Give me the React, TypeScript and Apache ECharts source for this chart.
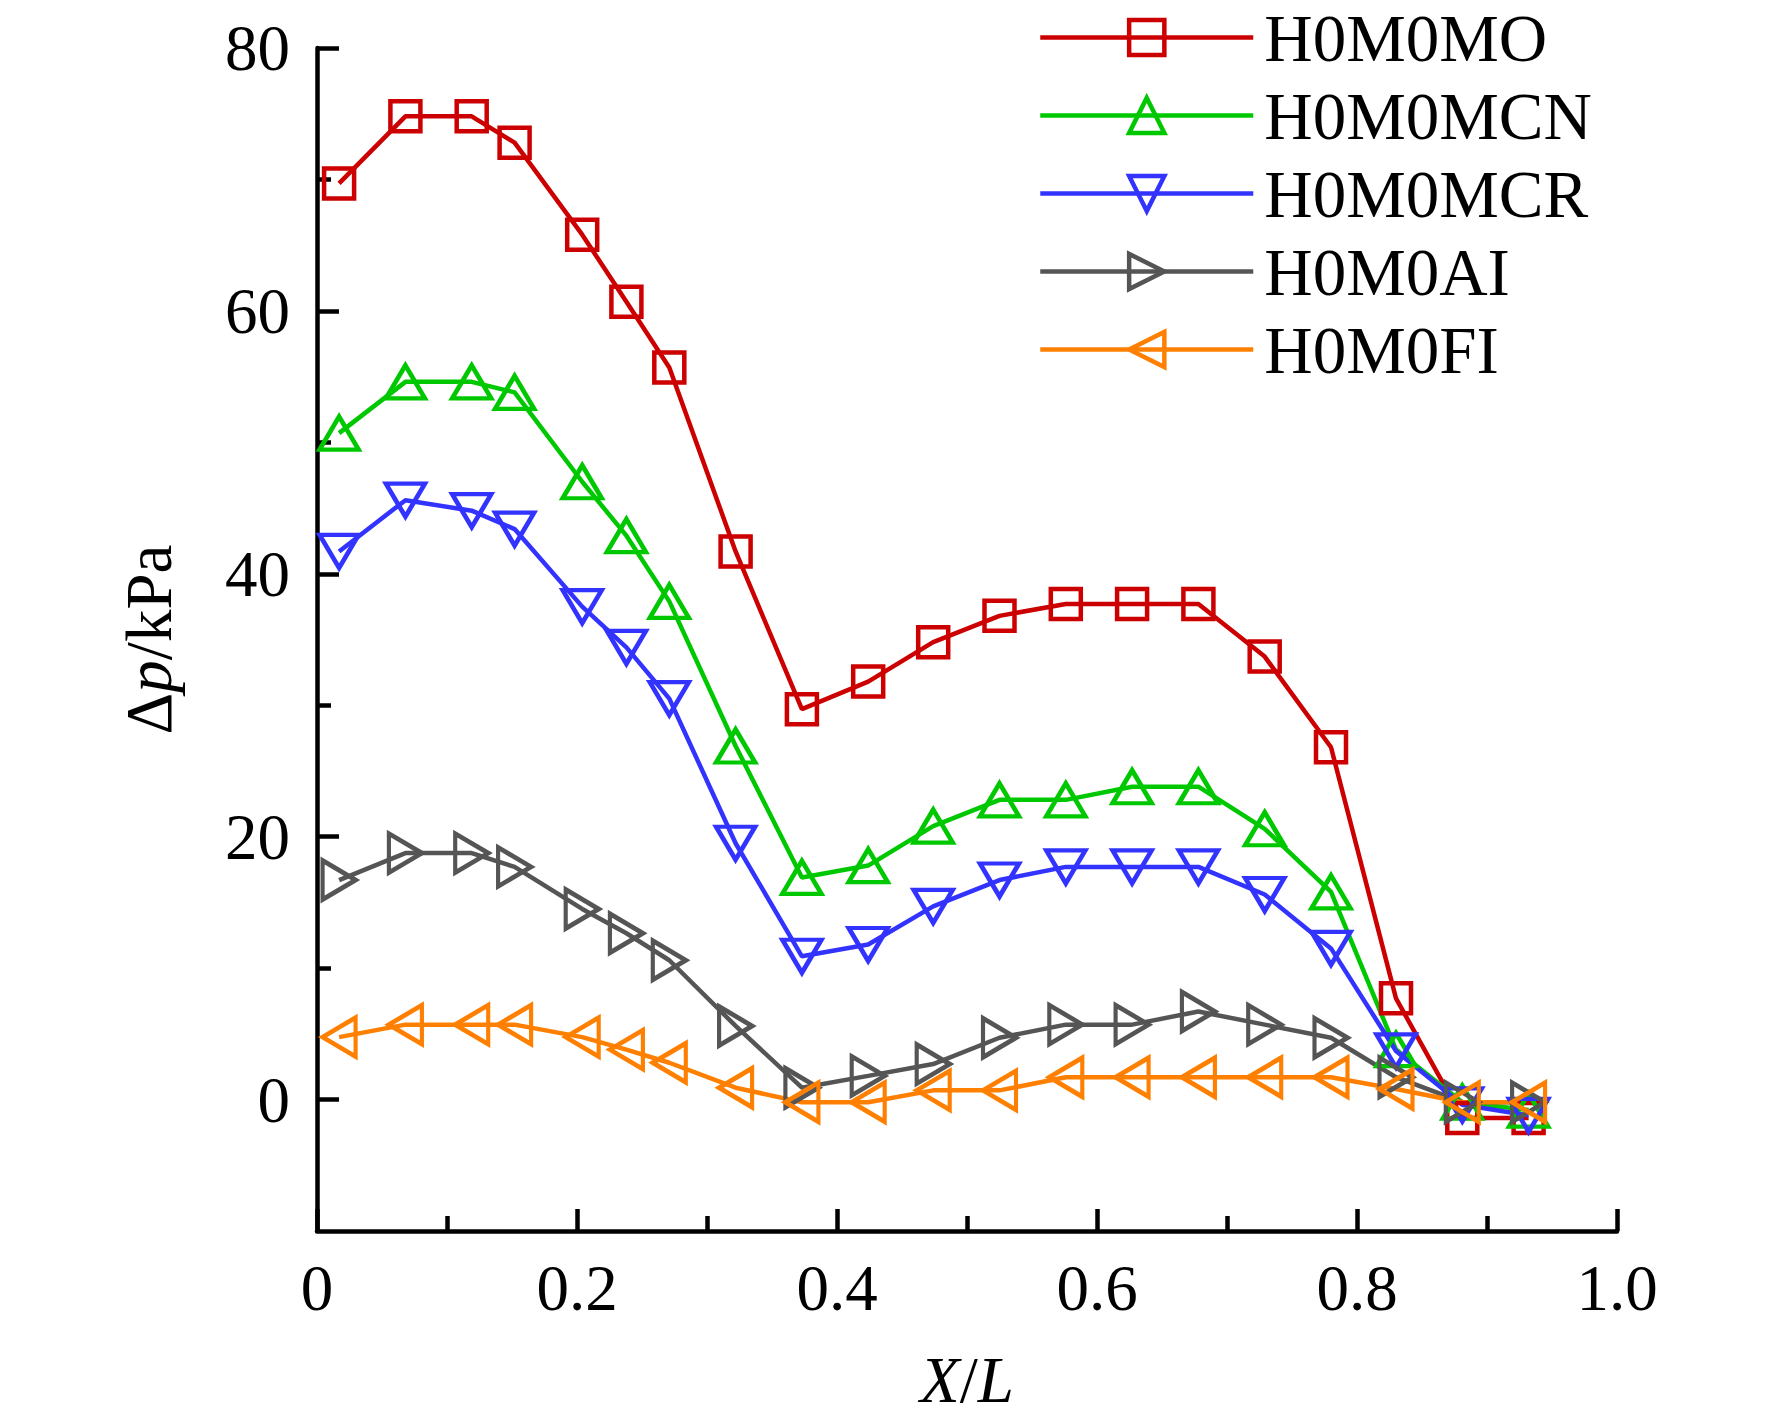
import React, { useEffect, useRef } from "react";
import * as echarts from "echarts";

const xValues = [0.017, 0.068, 0.119, 0.152, 0.204, 0.238, 0.271, 0.322, 0.373, 0.424, 0.474, 0.525, 0.576, 0.627, 0.678, 0.729, 0.78, 0.83, 0.881, 0.932];
const seriesNames = ["H0M0MO", "H0M0MCN", "H0M0MCR", "H0M0AI", "H0M0FI"];
const moValues = [69.7, 74.8, 74.8, 72.8, 65.8, 60.7, 55.7, 41.7, 29.7, 31.8, 34.8, 36.8, 37.7, 37.7, 37.7, 33.7, 26.8, 7.7, -1.4, -1.4];
const mcnValues = [50.7, 54.6, 54.6, 53.8, 47.0, 42.9, 37.9, 26.9, 16.9, 17.8, 20.8, 22.8, 22.8, 23.8, 23.8, 20.6, 15.8, 3.8, -0.2, -0.8];
const mcrValues = [41.7, 45.6, 44.8, 43.4, 37.5, 34.4, 30.5, 19.5, 10.9, 11.8, 14.7, 16.7, 17.7, 17.7, 17.7, 15.6, 11.5, 3.7, -0.4, -1.2];
const aiValues = [16.7, 18.75, 18.75, 17.7, 14.5, 12.65, 10.6, 5.6, 0.9, 1.8, 2.7, 4.7, 5.7, 5.7, 6.7, 5.7, 4.7, 1.7, -0.2, -0.2];
const fiValues = [4.75, 5.7, 5.7, 5.7, 4.75, 3.8, 2.8, 0.9, -0.2, -0.2, 0.7, 0.7, 1.7, 1.7, 1.7, 1.7, 1.7, 0.8, -0.2, -0.2];
const allValues = [moValues, mcnValues, mcrValues, aiValues, fiValues];

const yMajorTicks = [0, 20, 40, 60, 80];
const yMinorTicks = [10, 30, 50, 70];

const colors = ["#CC0000", "#00C800", "#3333FF", "#555555", "#FF8000"];
const symbols = ["rect", "triangle", "triangle", "triangle", "triangle"];
const rotations = [0, 0, 180, -90, 90];
const symbolSizes: any[] = [30, [39, 33], [39, 33], [39, 33], [39, 33]];

const FONT = "'Liberation Serif', 'Times New Roman', serif";
const LW = 4.5;

export default function App() {
  const ref = useRef<HTMLDivElement>(null);
  useEffect(() => {
    if (!ref.current) return;
    const chart = echarts.init(ref.current, null, { renderer: "svg" });
    const series = seriesNames.map((name, i) => ({
      name,
      type: "line",
      data: xValues.map((x, j) => [x, allValues[i][j]]),
      symbol: symbols[i],
      symbolSize: symbolSizes[i],
      symbolRotate: rotations[i],
      showAllSymbol: true,
      clip: false,
      lineStyle: { color: colors[i], width: LW },
      itemStyle: { color: "transparent", borderColor: colors[i], borderWidth: LW },
      emphasis: { disabled: true },
    }));
    chart.setOption({
      animation: false,
      backgroundColor: "#ffffff",
      grid: { left: 317, right: 155, top: 48, bottom: 184 },
      legend: {
        orient: "vertical",
        left: 1038,
        top: 4,
        padding: 0,
        itemWidth: 213,
        itemHeight: 44,
        itemGap: 11,
        selectedMode: false,
        textStyle: { fontFamily: FONT, fontSize: 67, color: "#000", padding: [0, 0, 0, 6] },
        data: seriesNames.map((name, i) => ({
          name,
          itemStyle: { color: "transparent", borderColor: colors[i], borderWidth: LW },
          lineStyle: { color: colors[i], width: LW },
        })),
      },
      xAxis: {
        type: "value",
        min: 0,
        max: 1,
        interval: 0.2,
        name: "{i|X}/{i|L}",
        nameLocation: "middle",
        nameGap: 116,
        nameTextStyle: {
          fontFamily: FONT,
          fontSize: 65,
          color: "#000",
          rich: { i: { fontFamily: FONT, fontSize: 65, fontStyle: "italic", color: "#000" } },
        },
        axisLine: { show: true, onZero: false, lineStyle: { color: "#000", width: LW } },
        axisTick: { show: true, inside: true, length: 22, lineStyle: { color: "#000", width: LW } },
        minorTick: { show: true, splitNumber: 2, length: 15, lineStyle: { color: "#000", width: LW } },
        splitLine: { show: false },
        axisLabel: {
          margin: 24,
          fontFamily: FONT,
          fontSize: 65,
          color: "#000",
          formatter: (v: number) => (v === 0 ? "0" : v.toFixed(1)),
        },
      },
      yAxis: [
        {
          type: "value",
          min: -10,
          max: 80,
          name: "Δ{i|p}/kPa",
          nameLocation: "middle",
          nameGap: 136,
          nameTextStyle: {
            fontFamily: FONT,
            fontSize: 65,
            color: "#000",
            rich: { i: { fontFamily: FONT, fontSize: 65, fontStyle: "italic", color: "#000" } },
          },
          axisLine: { show: true, onZero: false, lineStyle: { color: "#000", width: LW } },
          axisTick: { show: true, inside: true, length: 22, customValues: yMajorTicks, lineStyle: { color: "#000", width: LW } },
          splitLine: { show: false },
          axisLabel: {
            margin: 27,
            fontFamily: FONT,
            fontSize: 65,
            color: "#000",
            customValues: yMajorTicks,
          },
        },
        {
          type: "value",
          min: -10,
          max: 80,
          position: "left",
          axisLine: { show: false },
          axisTick: { show: true, inside: true, length: 14, customValues: yMinorTicks, lineStyle: { color: "#000", width: LW } },
          axisLabel: { show: false },
          splitLine: { show: false },
        },
      ],
      series,
    });
    return () => chart.dispose();
  }, []);
  return (
    <div
      ref={ref}
      style={{ position: "absolute", left: 0, top: 0, width: 1772, height: 1417, background: "#fff" }}
    />
  );
}
